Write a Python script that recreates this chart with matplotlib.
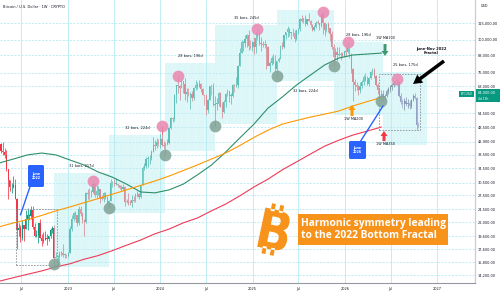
import numpy as np
import matplotlib
matplotlib.use("Agg")
import matplotlib.pyplot as plt
import matplotlib.dates as mdates
from matplotlib.patches import Rectangle, FancyBboxPatch, FancyArrow, PathPatch
from matplotlib.textpath import TextPath
from matplotlib.font_manager import FontProperties
from matplotlib.transforms import Affine2D
from matplotlib.path import Path
from matplotlib.ticker import FixedLocator, FuncFormatter, NullLocator

W, H = 500, 295

# ---------------- data (BTCUSD weekly, thousands of USD) ----------------
start_week = "2022-04-04"
first_open = 46.4
close = [
    42.2, 39.7, 39.4, 38.5, 34.3, 31.3, 29.4, 29.5, 29.9, 26.6,
    20.6, 21.0, 19.3, 21.6, 20.8, 22.6, 23.3, 23.2, 24.3, 21.1,
    19.6, 19.8, 21.8, 19.4, 18.8, 19.0, 19.4, 19.2, 19.6, 20.6,
    21.0, 16.3, 16.5, 16.5, 17.1, 17.1, 16.8, 16.8, 16.6, 17.1,
    20.9, 22.7, 23.7, 23.3, 21.8, 24.6, 23.6, 22.4, 22.1, 28.0,
    27.9, 28.0, 28.3, 30.3, 27.6, 28.6, 28.9, 26.9, 26.8, 28.1,
    27.0, 25.9, 26.3, 30.5, 30.6, 30.2, 30.3, 29.9, 29.3, 29.0,
    29.4, 26.1, 26.0, 25.9, 25.8, 26.5, 26.3, 27.9, 27.9, 27.1,
    30.0, 34.5, 35.0, 37.1, 37.4, 37.5, 39.5, 41.9, 41.4, 43.0,
    42.3, 43.9, 41.7, 41.6, 42.0, 42.6, 48.3, 52.1, 51.7, 63.1,
    68.9, 68.4, 67.2, 71.3, 69.4, 63.9, 64.9, 63.1, 64.0, 61.5,
    67.0, 68.5, 67.8, 69.3, 66.6, 63.2, 62.7, 55.9, 60.8, 68.2,
    68.2, 58.1, 58.7, 58.9, 64.2, 57.3, 54.8, 59.9, 63.6, 65.6,
    62.8, 62.9, 69.0, 68.0, 68.7, 80.4, 89.8, 97.9, 97.3, 101.1,
    104.5, 95.2, 93.7, 98.3, 94.5, 101.3, 104.8, 97.7, 96.5, 96.1,
    96.3, 94.2, 80.7, 82.6, 86.1, 82.4, 78.4, 83.7, 85.2, 94.7,
    94.3, 104.2, 106.5, 109.0, 105.7, 105.7, 105.6, 100.9, 108.4, 109.2,
    119.1, 117.3, 119.4, 114.2, 119.3, 117.4, 113.5, 108.2, 111.2, 115.3,
    115.2, 112.2, 123.5, 115.0, 108.6, 114.5, 110.6, 104.7, 94.2, 86.8,
    90.4, 88.2, 88.2, 88.6, 87.8, 91.0, 90.6, 93.5, 88.5, 78.7,
    70.5, 68.8, 67.9, 65.8, 68.2, 70.5, 73.5, 71.8, 69.5, 72.8,
    76.5, 78.0, 74.0, 69.0, 66.0, 63.5, 64.0]
high = [
    47.2, 42.4, 42.9, 40.8, 40.0, 34.3, 31.3, 30.6, 32.3, 31.6,
    26.9, 21.8, 21.5, 22.5, 21.6, 24.3, 24.7, 23.6, 25.2, 25.2,
    21.8, 20.6, 21.9, 22.7, 19.9, 20.3, 20.5, 19.9, 19.7, 21.0,
    21.4, 21.5, 17.2, 16.8, 17.4, 17.4, 18.4, 17.0, 16.9, 17.2,
    21.3, 23.4, 23.9, 24.2, 23.4, 25.2, 25.1, 23.9, 22.6, 28.4,
    28.9, 29.2, 28.7, 31.0, 30.5, 30.0, 29.8, 29.0, 27.6, 28.3,
    28.4, 27.4, 26.4, 31.4, 31.0, 31.4, 31.8, 30.4, 30.0, 30.0,
    30.2, 29.7, 26.8, 28.1, 26.4, 27.5, 27.4, 28.0, 28.6, 28.0,
    30.0, 35.2, 35.9, 37.9, 38.0, 38.4, 40.0, 44.7, 43.4, 44.4,
    43.8, 45.9, 49.0, 43.2, 42.8, 43.8, 48.5, 52.8, 52.9, 64.0,
    69.0, 73.8, 68.9, 71.7, 71.3, 72.8, 66.9, 67.2, 64.7, 65.5,
    67.4, 71.9, 70.6, 71.9, 70.0, 66.9, 63.4, 63.8, 61.4, 68.4,
    68.5, 70.0, 62.7, 61.8, 65.0, 64.9, 59.8, 60.7, 64.1, 66.5,
    65.6, 64.4, 69.4, 69.5, 73.6, 81.5, 93.4, 99.6, 98.9, 104.0,
    105.2, 108.4, 99.9, 98.9, 102.7, 106.4, 109.6, 106.5, 102.5, 98.8,
    99.5, 96.5, 95.0, 84.0, 87.4, 88.8, 88.5, 83.8, 86.5, 95.8,
    97.9, 104.3, 106.6, 111.9, 110.7, 106.8, 110.6, 108.9, 108.5, 110.5,
    119.5, 123.2, 120.2, 123.1, 119.3, 124.5, 117.6, 113.6, 113.4, 116.7,
    117.9, 115.4, 123.9, 126.2, 115.9, 114.0, 116.4, 110.8, 107.5, 96.6,
    93.1, 94.1, 94.6, 90.6, 90.5, 91.0, 94.8, 97.9, 93.8, 90.0,
    79.5, 72.2, 70.5, 69.0, 70.5, 71.8, 74.5, 76.0, 74.0, 73.5,
    77.5, 79.5, 79.0, 75.0, 70.0, 67.5, 66.0]
low = [
    42.1, 39.2, 38.6, 37.6, 33.7, 26.7, 28.6, 28.0, 29.3, 26.6,
    17.6, 19.6, 18.7, 19.0, 18.9, 20.8, 20.7, 22.4, 22.7, 20.8,
    19.5, 19.5, 18.5, 19.3, 18.1, 18.5, 19.0, 18.2, 18.9, 19.3,
    20.1, 15.6, 16.4, 15.5, 16.0, 16.7, 16.5, 16.4, 16.3, 16.5,
    17.1, 20.4, 22.3, 22.7, 21.4, 21.5, 23.1, 21.9, 19.6, 21.8,
    26.6, 26.5, 27.2, 28.0, 27.1, 26.9, 27.7, 25.8, 26.4, 26.1,
    26.6, 25.4, 24.8, 26.3, 29.5, 29.7, 29.9, 29.5, 28.9, 28.6,
    28.7, 25.2, 25.8, 25.4, 25.4, 24.9, 26.1, 26.0, 27.2, 26.6,
    26.9, 29.9, 34.1, 34.5, 34.8, 35.7, 36.9, 39.5, 40.2, 40.6,
    41.5, 40.8, 41.5, 40.3, 38.5, 41.9, 42.3, 47.7, 50.6, 50.9,
    59.0, 64.5, 60.8, 66.9, 64.5, 60.7, 59.6, 62.9, 56.5, 60.2,
    60.9, 66.1, 66.6, 67.6, 65.1, 63.4, 58.4, 53.5, 54.3, 60.6,
    63.5, 57.7, 49.0, 56.1, 57.8, 57.2, 52.5, 54.6, 57.5, 62.7,
    59.8, 58.9, 62.4, 65.1, 67.8, 66.8, 80.2, 89.4, 90.8, 94.5,
    94.3, 92.2, 92.6, 91.5, 89.3, 89.4, 99.5, 96.2, 91.2, 94.1,
    93.4, 78.2, 81.4, 76.6, 81.2, 81.6, 77.2, 74.4, 83.0, 85.1,
    92.8, 93.4, 100.8, 102.1, 103.1, 100.4, 103.4, 98.2, 99.6, 105.1,
    107.5, 115.7, 114.7, 112.0, 112.7, 116.9, 111.7, 107.3, 107.3, 110.6,
    114.4, 108.6, 111.5, 104.6, 103.5, 106.6, 106.3, 98.9, 93.0, 80.6,
    85.3, 83.8, 87.6, 84.4, 86.6, 86.9, 87.5, 90.0, 86.0, 76.0,
    60.2, 65.6, 66.0, 63.5, 64.5, 67.0, 69.0, 71.0, 68.5, 68.0,
    72.0, 75.0, 73.0, 68.0, 64.0, 62.5, 60.0]

# projected "June-Nov 2022 fractal" bars (continue after the last real bar)
proj_close = [62.0, 63.0, 65.5, 66.5, 67.5, 69.0, 70.0, 69.5, 70.5, 63.0, 59.5,
              58.5, 60.0, 58.5, 59.0, 58.0, 60.5, 63.0, 61.5, 49.5, 49.0]
proj_high = [66.0, 64.0, 66.5, 67.5, 68.5, 70.0, 71.0, 71.5, 72.5, 71.0, 64.5,
             61.0, 61.5, 62.0, 61.0, 60.5, 61.0, 64.0, 64.5, 62.0, 50.5]
proj_low = [60.0, 60.5, 62.0, 64.0, 65.0, 66.0, 67.5, 68.0, 68.5, 62.0, 58.5,
            57.0, 56.0, 58.0, 57.0, 56.5, 57.0, 60.0, 61.0, 47.3, 48.0]

# weekly moving averages, sampled every 8 weeks from start_week
ma_step_weeks = 8
ma100 = [36.0, 37.2, 38.5, 39.1, 38.5, 36.9, 35.4, 33.4, 32.0, 30.2, 28.3, 28.1, 28.8, 30.2,
         32.6, 35.4, 39.4, 44.3, 49.7, 56.8, 62.2, 68.7, 74.7, 81.2, 86.0, 88.2, 88.9, 89.6]
ma200 = [21.2, 21.9, 22.5, 23.3, 24.2, 25.0, 25.9, 26.8, 27.8, 28.8, 29.9, 31.0, 32.3, 33.8,
         35.4, 37.2, 39.1, 41.6, 44.5, 47.3, 49.7, 51.2, 52.7, 54.0, 55.4, 57.8, 59.9, 62.0]
ma350 = [13.5, 13.9, 14.3, 14.7, 15.2, 15.6, 16.2, 16.7, 17.4, 18.2, 19.0, 20.0, 20.8, 21.9,
         22.8, 24.2, 25.6, 27.4, 29.5, 31.5, 34.0, 36.3, 38.8, 41.4, 43.5, 45.4, 46.9, 48.5]

peak_idx = [53, 92, 101, 146, 183, 197, 225]
trough_idx = [31, 62, 94, 122, 157, 189, 216]

# date-range measurements: (first bar, last bar, bottom price, top price, label, label side)
ranges = [
    (31, 62, 15.2, 33.1, "31 bars, 217d", "above"),
    (62, 94, 23.8, 45.4, "32 bars, 224d", "above"),
    (94, 122, 39.9, 82.3, "28 bars, 196d", "above"),
    (122, 157, 49.6, 113.0, "35 bars, 245d", "above"),
    (157, 189, 70.9, 128.0, "32 bars, 224d", "below"),
    (189, 217, 53.6, 98.6, "28 bars, 196d", "above"),
    (217, 242, 41.9, 76.4, "25 bars, 175d", "above"),
]
fractal_boxes = [(9.5, 32.7, 15.4, 24.6), (215.0, 238.0, 47.3, 75.6)]

ytick_vals = [14.2, 15.8, 17.6, 19.6, 22.0, 24.5, 27.5, 30.5, 34.5, 38.5, 42.9, 48.5,
              54.5, 68.0, 76.0, 88.0, 100.0, 115.0]
xtick_dates = ["2022-07-01", "2023-01-01", "2023-07-01", "2024-01-01", "2024-07-01",
               "2025-01-01", "2025-07-01", "2026-01-01", "2026-07-01", "2027-01-01"]
xtick_labels = ["Jul", "2023", "Jul", "2024", "Jul", "2025", "Jul", "2026", "Jul", "2027"]
last_price = 64.0

assert len(close) == len(high) == len(low)
assert len(proj_close) == len(proj_high) == len(proj_low)

# ---------------- figure ----------------
plt.rcParams['font.family'] = ['DejaVu Sans']
fig = plt.figure(figsize=(W / 100, H / 100), dpi=100)
fig.patch.set_facecolor('white')
ax = fig.add_axes([0, 12 / H, 475 / W, 283 / H])
ax.set_facecolor('white')

t0 = mdates.date2num(np.datetime64(start_week))


def wx(i):
    return t0 + 7.0 * np.asarray(i, dtype=float)


n = len(close)
xs = wx(np.arange(n))
c = np.array(close)
o = np.r_[first_open, c[:-1]]
hi = np.array(high)
lo = np.array(low)
UP, DN = '#089981', '#f23645'
cols = np.where(c >= o, UP, DN)
ax.vlines(xs, lo, hi, colors=cols, lw=0.55, zorder=2)
bh = np.maximum(np.abs(c - o), c * 0.006)
ax.bar(xs, bh, bottom=np.minimum(o, c), width=4.6, color=cols, lw=0, zorder=2)

# projected bars
m = len(proj_close)
pxs = wx(n + np.arange(m))
pc = np.array(proj_close)
po = np.r_[c[-1], pc[:-1]]
pcols = np.where(pc >= po, '#4a4a5e', '#7b5ea7')
ax.vlines(pxs, proj_low, proj_high, colors=pcols, lw=0.55, zorder=2)
ax.bar(pxs, np.maximum(np.abs(pc - po), pc * 0.006), bottom=np.minimum(po, pc), width=4.6,
       color=pcols, lw=0, zorder=2)

# moving averages
mx = wx(np.arange(len(ma100)) * ma_step_weeks)
ax.plot(mx, ma100, color='#2f8f6a', lw=0.8, zorder=4)
ax.plot(mx, ma200, color='#ff9800', lw=0.8, zorder=4)
ax.plot(mx, ma350, color='#ee3b57', lw=0.8, zorder=4)

# date-range boxes
for (i0, i1, pb, pt, lab, side) in ranges:
    x0, x1 = wx(i0), wx(i1)
    ax.add_patch(Rectangle((x0, pb), x1 - x0, pt - pb, facecolor='#9ee6ee', alpha=0.4,
                           lw=0, zorder=3))
    for k in range(i0, i1):
        ax.plot([wx(k + 0.5)] * 2, [pb, pt], color='white', lw=0.35, alpha=0.55, zorder=3)
    xc = (x0 + x1) / 2
    if side == 'above':
        ax.annotate(lab, (xc, pt), xytext=(0, 7), textcoords='offset pixels', ha='center',
                    va='center', fontsize=2.5, color='#131722', zorder=6)
    else:
        ax.annotate(lab, (xc, pb), xytext=(0, -10), textcoords='offset pixels', ha='center',
                    va='center', fontsize=2.5, color='#131722', zorder=6)

for (i0, i1, pb, pt) in fractal_boxes:
    ax.add_patch(Rectangle((wx(i0), pb), wx(i1) - wx(i0), pt - pb, fill=False,
                           edgecolor='#8d9099', lw=0.6, ls=(0, (2, 1.5)), zorder=4))

# peak / trough markers
all_hi = np.r_[hi, proj_high]
all_lo = np.r_[lo, proj_low]
ax.scatter(wx(peak_idx), all_hi[peak_idx], s=72, color='#ea86b0', alpha=0.85, lw=0, zorder=5)
ax.scatter(wx(trough_idx), all_lo[trough_idx], s=72, color='#80a295', alpha=0.85, lw=0, zorder=5)

# axes setup
ax.set_yscale('log')
ax.set_ylim(13.3, 139.2)
ax.set_xlim(mdates.date2num(np.datetime64('2022-04-07')), mdates.date2num(np.datetime64('2027-05-31')))
ax.yaxis.set_major_locator(FixedLocator(ytick_vals))
ax.yaxis.set_minor_locator(NullLocator())
ax.yaxis.set_major_formatter(FuncFormatter(lambda v, p: f"{v * 1000:,.2f}"))
ax.yaxis.tick_right()
xt = [mdates.date2num(np.datetime64(d)) for d in xtick_dates]
ax.set_xticks(xt)
ax.set_xticklabels(xtick_labels)
ax.tick_params(axis='both', length=0, labelsize=2.5, labelcolor='#131722')
ax.tick_params(axis='y', pad=2)
ax.tick_params(axis='x', pad=3)
ax.grid(axis='y', color='#a8e6ee', lw=0.5, ls=(0, (3, 2)), zorder=0)
ax.grid(axis='x', color='#b5ecf2', lw=0.6, zorder=0)
ax.set_axisbelow(True)
for s in ['top', 'left']:
    ax.spines[s].set_visible(False)
ax.spines['right'].set_color('#c9ccd3')
ax.spines['bottom'].set_color('#9598a1')
ax.spines['right'].set_linewidth(0.9)
ax.spines['bottom'].set_linewidth(0.8)

# ---------------- annotations in figure-pixel overlay ----------------
ov = fig.add_axes([0, 0, 1, 1], zorder=10)
ov.set_xlim(0, W)
ov.set_ylim(H, 0)
ov.axis('off')
ov.patch.set_alpha(0)


def d2p(x, y):
    dx, dy = ax.transData.transform((x, y))
    return dx, H - dy


fig.text(3 / W, 1 - 7 / H, 'Bitcoin / U.S. Dollar · 1W · CRYPTO', fontsize=2.6,
         color='#131722', va='center', ha='left')
ov.text(481, 6, 'USD', fontsize=2.5, color='#131722', va='center', ha='left')

# last price label
py = d2p(xs[-1], last_price)[1]
ov.add_patch(Rectangle((459, py - 3), 15, 6, color='#089981', lw=0))
ov.text(466.5, py, 'BTCUSD', fontsize=2.1, color='white', ha='center', va='center')
ov.add_patch(Rectangle((476, py - 4.5), 24, 13, color='#089981', lw=0))
ov.text(478, py - 0.5, f"{last_price * 1000:,.2f}", fontsize=2.5, color='white', ha='left', va='center')
ov.text(478, py + 5, '4d 13h', fontsize=2.2, color='white', ha='left', va='center')

# MA labels and arrows
ov.text(385, 38, '1W MA100', fontsize=2.5, color='#131722', ha='center', va='center')
ov.add_patch(FancyArrow(385, 44, 0, 12, width=3, head_width=7, head_length=5,
                        length_includes_head=True, color='#3f9a73', lw=0))
ov.text(354, 119, '1W MA200', fontsize=2.5, color='#131722', ha='center', va='center')
ov.add_patch(FancyArrow(352, 116, 0, -11, width=3, head_width=7, head_length=5,
                        length_includes_head=True, color='#ff9800', lw=0))
ov.text(385, 144, '1W MA350', fontsize=2.5, color='#131722', ha='center', va='center')
ov.add_patch(FancyArrow(384, 141, 0, -10, width=3, head_width=7, head_length=5,
                        length_includes_head=True, color='#f23645', lw=0))

# fractal note + black arrow
ov.text(431, 51, 'June-Nov 2022\nFractal', fontsize=2.7, fontweight='bold', color='#131722',
        ha='center', va='center', linespacing=1.2)
ov.add_patch(FancyArrow(444, 61, -31, 23, width=3.5, head_width=10, head_length=9,
                        length_includes_head=True, color='black', lw=0))

# blue callouts
def callout(x0, y0, w, h, txt, target):
    ov.plot([x0 + w * 0.35, target[0]], [y0 + h * 0.5, target[1]], color='#2962ff', lw=1.0,
            solid_capstyle='round')
    ov.add_patch(FancyBboxPatch((x0, y0), w, h, boxstyle='round,pad=0,rounding_size=1.5',
                                color='#2962ff', lw=0))
    ov.text(x0 + w / 2, y0 + h / 2, txt, fontsize=2.3, color='white', ha='center',
            va='center', fontweight='bold', linespacing=1.2)


callout(28, 165, 16, 22, 'June\n2022', d2p(wx(12), 23.4))
callout(349, 141, 17, 18, 'June\n2026', d2p(wx(217), 57.8))

# Bitcoin logo (B with stems)
fp = FontProperties(family='DejaVu Sans', weight='bold')
tp = TextPath((0, 0), 'B', size=10, prop=fp)
ext = tp.get_extents()
v = (tp.vertices - [ext.x0, ext.y0]) / [ext.width, ext.height]
verts = [v]
codes = [tp.codes]
for sx0, sx1 in [(0.2, 0.34), (0.5, 0.64)]:
    for yy0, yy1 in [(0.95, 1.14), (-0.14, 0.05)]:
        verts.append(np.array([[sx0, yy0], [sx1, yy0], [sx1, yy1], [sx0, yy1], [sx0, yy0]]))
        codes.append(np.array([Path.MOVETO, Path.LINETO, Path.LINETO, Path.LINETO, Path.CLOSEPOLY]))
bpath = Path(np.vstack(verts), np.concatenate(codes))
tr = Affine2D().translate(-0.5, -0.5).scale(28, 40).rotate_deg(-12).scale(1, -1).translate(275, 230)
ov.add_patch(PathPatch(tr.transform_path(bpath), color='#f7931a', lw=0))

# title box
ov.add_patch(Rectangle((298, 214), 150, 31, color='#f7931a', lw=0))
ov.text(301, 229.5, 'Harmonic symmetry leading\nto the 2022 Bottom Fractal', fontsize=7.4,
        family='Open Sans', fontweight='bold', color='white', ha='left', va='center',
        linespacing=1.15)

fig.savefig('out.png', dpi=100)
